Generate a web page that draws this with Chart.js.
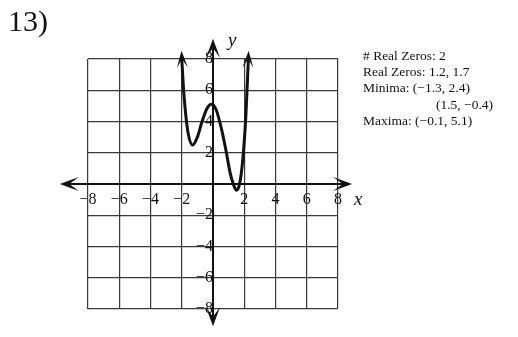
<!DOCTYPE html>
<html>
<head>
<meta charset="utf-8">
<script src="https://cdn.jsdelivr.net/npm/chart.js@4/dist/chart.umd.min.js"></script>
<style>
  html, body { margin: 0; padding: 0; background: #fff; }
  #wrap { position: relative; width: 518px; height: 337px; overflow: hidden; font-family: "Liberation Serif", "DejaVu Serif", serif; color: #111; }
  #graph { position: absolute; left: 0; top: 0; }
  .txt { position: absolute; white-space: nowrap; }
  #num { left: 8px; top: 4px; font-size: 30px; }
  #info { left: 363px; top: 48px; font-size: 13.5px; line-height: 16.2px; }
  .ax { font-style: italic; font-size: 19px; }
</style>
</head>
<body>
<div id="wrap">
  <canvas id="graph" width="518" height="337"></canvas>
  <div class="txt" id="num">13)</div>
  <div class="txt" id="info">
    # Real Zeros: 2<br>
    Real Zeros: 1.2, 1.7<br>
    Minima: (&minus;1.3, 2.4)<br>
    <span style="padding-left:73px">(1.5, &minus;0.4)</span><br>
    Maxima: (&minus;0.1, 5.1)
  </div>
  <div class="txt ax" style="left:354px; top:188px;">x</div>
  <div class="txt ax" style="left:228px; top:29px;">y</div>
</div>
<script>
// curve points
var curveX = [-2.02, -1.9, -1.8, -1.6, -1.3, -1.0, -0.7, -0.4, -0.1, 0.2, 0.5, 0.8, 1.1, 1.3, 1.5, 1.7, 1.9, 2.1, 2.28];
var curveY = [8.4, 6.3, 5.0, 3.3, 2.5, 3.0, 4.0, 4.8, 5.1, 4.75, 3.7, 2.3, 0.7, 0.0, -0.4, 0.0, 1.5, 4.3, 8.4];

// axis range and tick spacing
var axisMin = -8, axisMax = 8, tickStep = 2;
// where the axis arrows end
var xArrowEnds = [-9.8, 8.9];
var yArrowEnds = [9.3, -9.1];

function tickLabel(v) {
    if (v === 0) return '';
    return v < 0 ? '\u2212' + Math.abs(v) : String(v);
}

function arrowHead(ctx, tipX, tipY, ang, len, half) {
    // stealth style head pointing along ang
    var c = Math.cos(ang), s = Math.sin(ang);
    var bx = tipX - c * len, by = tipY - s * len;
    var nx = -s, ny = c;
    ctx.beginPath();
    ctx.moveTo(tipX, tipY);
    ctx.lineTo(bx + nx * half - c * 2, by + ny * half - s * 2);
    ctx.lineTo(tipX - c * len * 0.55, tipY - s * len * 0.55);
    ctx.lineTo(bx - nx * half - c * 2, by - ny * half - s * 2);
    ctx.closePath();
    ctx.fill();
}

var arrowsPlugin = {
    id: 'arrows',
    afterDraw: function(chart) {
        var ctx = chart.ctx;
        var xs = chart.scales.x, ys = chart.scales.y;
        var x0 = xs.getPixelForValue(0), y0 = ys.getPixelForValue(0);
        ctx.save();
        ctx.strokeStyle = '#111';
        ctx.fillStyle = '#111';
        ctx.lineWidth = 2;
        // x axis
        var xl = xs.getPixelForValue(xArrowEnds[0]), xr = xs.getPixelForValue(xArrowEnds[1]);
        ctx.beginPath();
        ctx.moveTo(xl + 6, y0); ctx.lineTo(xr - 6, y0);
        ctx.stroke();
        arrowHead(ctx, xl, y0, Math.PI, 17, 7);
        arrowHead(ctx, xr, y0, 0, 17, 7);
        // y axis
        var yt = ys.getPixelForValue(yArrowEnds[0]), yb = ys.getPixelForValue(yArrowEnds[1]);
        ctx.beginPath();
        ctx.moveTo(x0, yt + 6); ctx.lineTo(x0, yb - 6);
        ctx.stroke();
        arrowHead(ctx, x0, yt, -Math.PI / 2, 17, 7);
        arrowHead(ctx, x0, yb, Math.PI / 2, 17, 7);
        // arrows at both ends of the curve
        var pts = chart.getDatasetMeta(0).data;
        var a = pts[0], b = pts[1];
        arrowHead(ctx, a.x, a.y - 2, Math.atan2(a.y - b.y, a.x - b.x), 15, 5.5);
        var n = pts.length;
        a = pts[n - 1]; b = pts[n - 2];
        arrowHead(ctx, a.x, a.y - 2, Math.atan2(a.y - b.y, a.x - b.x), 15, 5.5);
        ctx.restore();
    }
};

var points = curveX.map(function(x, i) { return { x: x, y: curveY[i] }; });

var tickFont = { family: '"Liberation Serif", "DejaVu Serif", serif', size: 16 };

new Chart(document.getElementById('graph'), {
    type: 'line',
    data: {
        datasets: [{
            data: points,
            borderColor: '#111',
            borderWidth: 3,
            pointRadius: 0,
            cubicInterpolationMode: 'monotone',
            fill: false
        }]
    },
    options: {
        responsive: false,
        animation: false,
        layout: { padding: { left: 88, right: 180, top: 59, bottom: 28 } },
        plugins: { legend: { display: false }, tooltip: { enabled: false } },
        scales: {
            x: {
                type: 'linear',
                position: { y: 0 },
                min: axisMin, max: axisMax,
                grid: { color: '#3a3a3a', lineWidth: 1.2, drawTicks: false },
                border: { display: false },
                ticks: { stepSize: tickStep, autoSkip: false, maxRotation: 0, padding: 6, color: '#111', font: tickFont, callback: tickLabel }
            },
            y: {
                type: 'linear',
                position: { x: 0 },
                min: axisMin, max: axisMax,
                grid: { color: '#3a3a3a', lineWidth: 1.2, drawTicks: false },
                border: { display: false },
                ticks: { stepSize: tickStep, autoSkip: false, padding: 2, color: '#111', font: tickFont, callback: tickLabel }
            }
        }
    },
    plugins: [arrowsPlugin]
});
</script>
</body>
</html>
